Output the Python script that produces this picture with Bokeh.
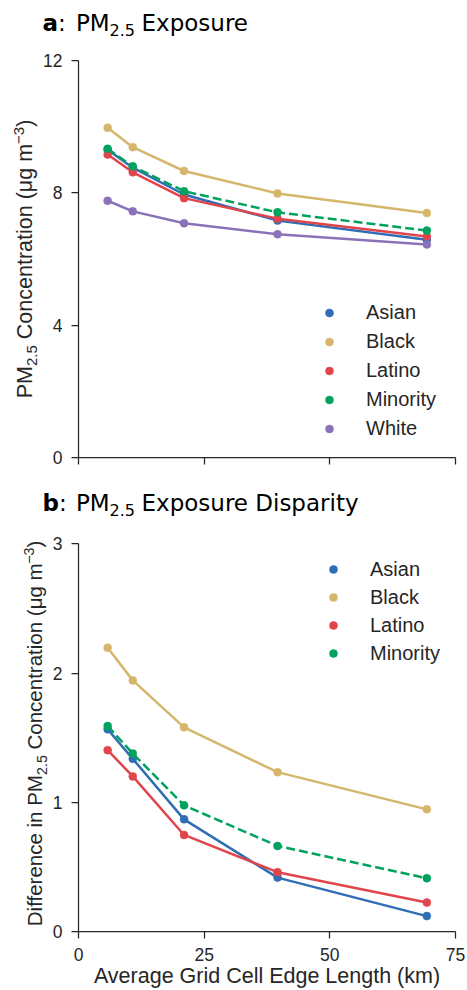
import math
from bokeh.plotting import figure
from bokeh.models import Legend, LegendItem, FixedTicker, Range1d
from bokeh.core.properties import value
from bokeh.layouts import column, row
from bokeh.embed import file_html
from bokeh.resources import INLINE

# ---------------- data ----------------
groups = ["Asian", "Black", "Latino", "Minority", "White"]
x_km = [5.8, 10.8, 21.0, 39.6, 69.3]

# panel a: PM2.5 exposure (ug m-3)
exp_asian = [9.30, 8.76, 7.95, 7.16, 6.58]
exp_black = [9.97, 9.38, 8.66, 7.98, 7.39]
exp_latino = [9.16, 8.62, 7.84, 7.22, 6.68]
exp_minority = [9.33, 8.80, 8.05, 7.41, 6.86]
exp_white = [7.76, 7.44, 7.08, 6.75, 6.44]

# panel b: exposure disparity (group minus White)
dis_asian = [1.565, 1.336, 0.868, 0.417, 0.119]
dis_black = [2.196, 1.943, 1.580, 1.233, 0.945]
dis_latino = [1.403, 1.200, 0.747, 0.459, 0.224]
dis_minority = [1.590, 1.377, 0.976, 0.662, 0.412]

x_ticks = [0, 25, 50, 75]
y_ticks_a = [0, 4, 8, 12]
y_ticks_b = [0, 1, 2, 3]

colors = {
    "Asian": "#2f6db4",
    "Black": "#d5b66b",
    "Latino": "#e0454c",
    "Minority": "#00a35e",
    "White": "#8a72b9",
}
dashes = {"Minority": "9 4"}

AX = "#262626"
TICK_FONT = "Liberation Sans"
TITLE_FONT = "DejaVu Sans"
MID_LS = 0.3465   # baseline below "middle" anchor, Liberation Sans (em)
MID_DJ = 0.34     # same for DejaVu Sans


def base_fig(width, height, left, top, bottom, yr, yticks):
    p = figure(width=width, height=height, output_backend="svg", toolbar_location=None,
               title=None, x_range=Range1d(0, 75), y_range=Range1d(*yr),
               min_border_left=left, min_border_right=12,
               min_border_top=top, min_border_bottom=bottom)
    p.outline_line_color = None
    p.grid.visible = False
    for ax in (p.xaxis[0], p.yaxis[0]):
        ax.axis_line_color = AX
        ax.axis_line_width = 1.25
        ax.major_tick_line_color = AX
        ax.major_tick_line_width = 1.25
        ax.major_tick_out = 7
        ax.major_tick_in = 0
        ax.minor_tick_out = 0
        ax.minor_tick_in = 0
        ax.major_label_text_font = TICK_FONT
        ax.major_label_text_font_size = "17.5px"
        ax.major_label_text_color = AX
        ax.axis_label_text_font = TICK_FONT
        ax.axis_label_text_font_size = "21.5px"
        ax.axis_label_text_font_style = "normal"
        ax.axis_label_text_color = AX
    p.xaxis.ticker = FixedTicker(ticks=x_ticks)
    p.yaxis.ticker = FixedTicker(ticks=yticks)
    p.yaxis.major_label_standoff = 9
    p.xaxis.major_label_standoff = 9
    return p


def text_fig(width, height, top=0, bottom=0):
    # blank figure; data units = pixels measured from its bottom-left corner
    t = figure(width=width, height=height, output_backend="svg", toolbar_location=None,
               title=None, x_range=Range1d(0, width), y_range=Range1d(bottom, height - top),
               x_axis_location=None, y_axis_location=None,
               min_border=0, min_border_left=0, min_border_right=0,
               min_border_top=top, min_border_bottom=bottom)
    t.outline_line_color = None
    t.grid.visible = False
    return t


def put(t, x, y, s, font, size, style="normal", angle=0.0, color="black"):
    t.text(x=[x], y=[y], text=[s], angle=angle, text_font=value(font),
           text_font_size=value(f"{size}px"), text_font_style=style, text_color=color,
           text_align="left", text_baseline="middle")


def draw_series(p, data, legend_loc, row_h, standoff):
    items = []
    for g, ys in data:
        kw = {}
        if g in dashes:
            kw["line_dash"] = dashes[g]
        p.line(x_km, ys, line_color=colors[g], line_width=2.5, line_join="round", **kw)
        r = p.scatter(x_km, ys, size=8, fill_color=colors[g], line_color=colors[g], line_width=0.5)
        items.append(LegendItem(label=g, renderers=[r]))
    lg = Legend(items=items, location=legend_loc, padding=0, margin=0, spacing=0,
                glyph_width=20, glyph_height=row_h, label_height=row_h,
                label_standoff=standoff, border_line_color=None, background_fill_alpha=0,
                label_text_font=TICK_FONT, label_text_font_size="20px",
                label_text_color=AX, label_text_baseline="middle")
    p.add_layout(lg)


def title_fig(height, base_up, letter, colon_x, rest):
    # base_up: baseline height above the figure bottom, in pixels
    t = text_fig(467, height)
    big, small = 23, 16
    yb = base_up + MID_DJ * big
    ys = base_up - 4.5 + MID_DJ * small
    put(t, 42, yb, letter, TITLE_FONT, big, style="bold")
    put(t, colon_x, yb, ":", TITLE_FONT, big)
    put(t, 75.4, yb, "PM", TITLE_FONT, big)
    put(t, 109, ys, "2.5", TITLE_FONT, small)
    put(t, 141, yb, rest, TITLE_FONT, big)
    return t


def ylabel_fig(width, height, top, bottom, prefix, base_x, y0, big):
    # rotated label: prefix + "PM" sub(2.5) " Concentration (μg m" sup(−3) ")"
    t = text_fig(width, height, top, bottom)
    small = round(big * 0.7, 2)
    k = big / 21.5
    pieces = [
        (prefix + "PM", big, 0, (5.891 if prefix else 0.0) * big + 1.500 * big),
        ("2.5", small, 5 * k, 1.390 * small + 0.278 * big),
        ("Concentration (μg m", big, 0, 9.079 * big),
        ("−3", small, -8 * k, 1.140 * small),
        (")", big, 0, 0.333 * big),
    ]
    off = 0.0
    for s, fs, shift, adv in pieces:
        put(t, base_x + shift - MID_LS * fs, y0 + off, s, TICK_FONT, fs,
            angle=math.pi / 2, color=AX)
        off += adv
    return t


# ---------------- panel a ----------------
# canvas rows: title 0-40, plot 40-490 (frame 60-457)
ta = title_fig(40, 10, "a", 57.5, "Exposure")
la = ylabel_fig(38, 450, 20, 33, "", 32, 92.2, 21.5)
pa = base_fig(429, 450, 40, 20, 33, (0, 12), y_ticks_a)
pa.xaxis.major_label_overrides = {0: "", 25: "", 50: "", 75: ""}
pa.xaxis.major_label_text_font_size = "1px"
pa.xaxis.major_label_standoff = 0
draw_series(pa, [("Asian", exp_asian), ("Black", exp_black), ("Latino", exp_latino),
                 ("Minority", exp_minority), ("White", exp_white)],
            (241, 14), 29, 27)

# ---------------- panel b ----------------
# canvas rows: title 490-535, plot 535-990 (frame 535-932, tick 3 at 543.3)
b_frame_h = 397.0
b_unit_px = 388.7 / 3
tb = title_fig(45, 25, "b", 58.5, "Exposure Disparity")
lb = ylabel_fig(48, 455, 0, 58, "Difference in ", 41.5, 63.3, 20.5)
pb = base_fig(419, 455, 30, 0, 58, (0, b_frame_h / b_unit_px), y_ticks_b)
pb.yaxis.bounds = (0, 3)
pb.xaxis.axis_label = "Average Grid Cell Edge Length (km)"
pb.xaxis.axis_label_standoff = 0
draw_series(pb, [("Asian", dis_asian), ("Black", dis_black), ("Latino", dis_latino),
                 ("Minority", dis_minority)],
            (245, 264), 28, 27)

layout = column(ta, row(la, pa, spacing=0), tb, row(lb, pb, spacing=0), spacing=0)
open("out.html", "w").write(file_html(layout, INLINE))
